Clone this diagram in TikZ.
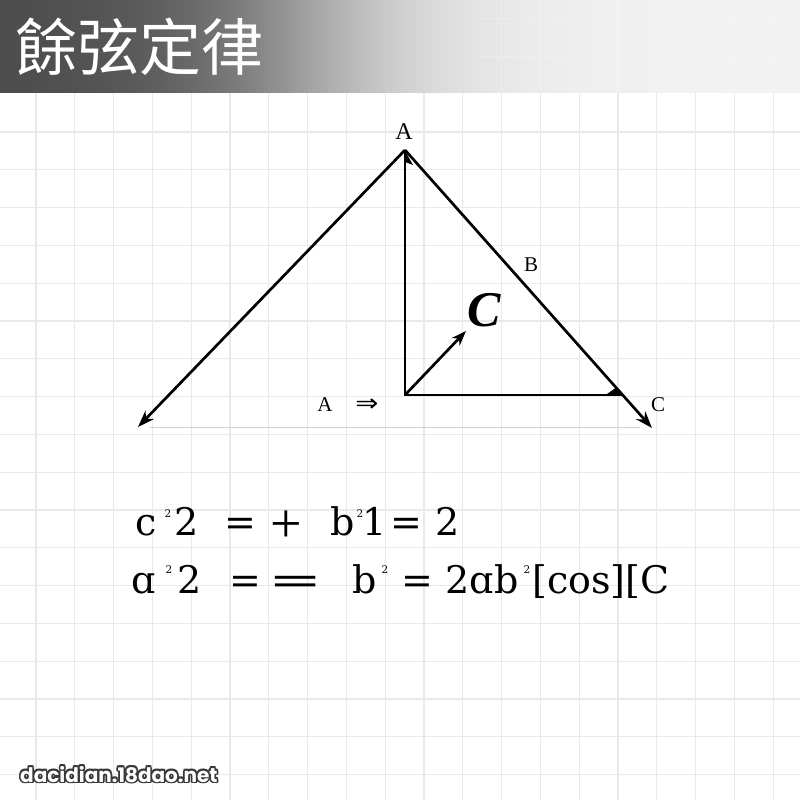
\documentclass[tikz,border=0pt]{standalone}
\usepackage{fontspec}
\usetikzlibrary{arrows.meta}
\newfontfamily\cjkfont{Noto Sans CJK TC}
\newfontfamily\lblfont{Liberation Serif}
\newfontfamily\fmfont{DejaVu Serif}
\newfontfamily\symfont{DejaVu Sans}
\newfontfamily\wmfont{Poppins}
\definecolor{gridc}{HTML}{E7E9ED}
\definecolor{wmdark}{HTML}{383838}
\definecolor{basec}{HTML}{D2D2D2}
\tikzset{
  gridline/.style={gridc, line width=1.3pt},
  hdrgrid/.style={white, opacity=0.22, line width=1.3pt},
  ln/.style={black, line width=2.7pt},
  arr/.style={ln, -{Stealth[length=17pt,width=12pt]}},
  lbl/.style={font=\lblfont\fontsize{21}{23}\selectfont, inner sep=0pt},
  fm/.style={font=\fmfont\fontsize{38}{40}\selectfont, inner sep=0pt, anchor=base},
  supx/.style={font=\fmfont\fontsize{10.5}{12}\selectfont, inner sep=0pt, anchor=base},
  wm/.style={font=\wmfont\bfseries\fontsize{20}{22}\selectfont, inner sep=0pt},
}
\begin{document}
\begin{tikzpicture}[x=1pt,y=-1pt]
\useasboundingbox (0,0) rectangle (800,800);
\fill[white] (0,0) rectangle (800,800);
% grid
\foreach \k in {0,...,20} {\draw[gridline] ({36+38.8*\k},93) -- ({36+38.8*\k},800);}
\foreach \k in {0,...,18} {\draw[gridline] (0,{132+37.8*\k}) -- (800,{132+37.8*\k});}
% header gradient
\foreach \i in {0,...,199} {
  \pgfmathsetmacro\p{5+66/(1+exp((4*\i-300)/75))}
  \fill[black!\p] ({4*\i},0) rectangle ({4*\i+5},93);
}
\foreach \k in {12,...,20} {\draw[hdrgrid] ({36+38.8*\k},0) -- ({36+38.8*\k},93);}
\foreach \yy in {18.6,56.4} {\draw[hdrgrid] (480,\yy) -- (800,\yy);}
\node[font=\cjkfont\fontsize{62}{64}\selectfont, white, inner sep=0pt, anchor=west] (title) at (15,47) {餘弦定律};

% triangle
\coordinate (A) at (405,150);
\coordinate (L) at (138,427);
\coordinate (R) at (652,428);
\coordinate (F) at (405,395);
\coordinate (H) at (622,395);
\coordinate (Ct) at (466,331);
\coordinate (G1) at (150,427);
\coordinate (G2) at (640,427);
\draw[basec, line width=1pt] (G1) -- (G2);
\draw[arr] (A) -- (L);
\draw[arr] (A) -- (R);
\draw[ln, line join=miter] (A) -- (F) -- (H);
\draw[ln, -{Stealth[length=15pt,width=11pt]}] (F) -- (Ct);
\fill[black] (405,151) -- (413,165) -- (405,162) -- cycle;
\fill[black] (607,394) -- (620,394) -- (617,387) -- cycle;

\node[lbl, font=\lblfont\fontsize{24}{26}\selectfont] (lA) at (404,132) {A};
\node[lbl] (lB) at (531,265) {B};
\node[lbl] (lC) at (658,405) {C};
\node[lbl] (lA2) at (325,405) {A};
\node[inner sep=0pt, font=\symfont\fontsize{24}{26}\selectfont, xscale=1.15] (imp) at (367,405) {⇒};
\node[font=\lblfont\bfseries\itshape\fontsize{50}{52}\selectfont, inner sep=0pt] (bigC) at (484,310) {C};

% formula line 1
\node[fm] (f1c) at (146,535) {c};
\node[supx] (f1s1) at (168,517) {2};
\node[fm] (f1two) at (187,535) {2};
\node[fm] (f1eq) at (240,535) {=};
\node[inner sep=0pt, font=\lblfont\fontsize{56}{58}\selectfont] (f1plus) at (286,527) {+};
\node[fm] (f1b) at (343,535) {b};
\node[supx] (f1s2) at (360,517) {2};
\node[fm] (f1one) at (375,535) {1};
\node[fm] (f1eq2) at (406,535) {=};
\node[fm] (f1end) at (448,535) {2};

% formula line 2
\node[fm] (f2a) at (144,593) {ɑ};
\node[supx] (f2s1) at (169,573) {2};
\node[fm] (f2two) at (190,593) {2};
\node[fm] (f2eq) at (245,593) {=};
\node[fm, xscale=1.7] (f2eqq) at (296,593) {=};
\node[fm] (f2b) at (365,593) {b};
\node[supx] (f2s2) at (385,573) {2};
\node[fm] (f2eq2) at (417,593) {=};
\node[fm] (f2ab) at (482,593) {2ɑb};
\node[supx] (f2s3) at (527,573) {2};
\node[fm, anchor=base west] (f2cos) at (532,593) {[cos][C};

% watermark
\foreach \a in {0,45,...,315} {
  \node[wm, wmdark, anchor=base west, xshift={1.7*cos(\a)}, yshift={1.7*sin(\a)}] (wm\a) at (20,782) {dacidian.18dao.net};
}
\node[wm, white, anchor=base west] (wmtext) at (20,782) {dacidian.18dao.net};
\end{tikzpicture}
\end{document}
